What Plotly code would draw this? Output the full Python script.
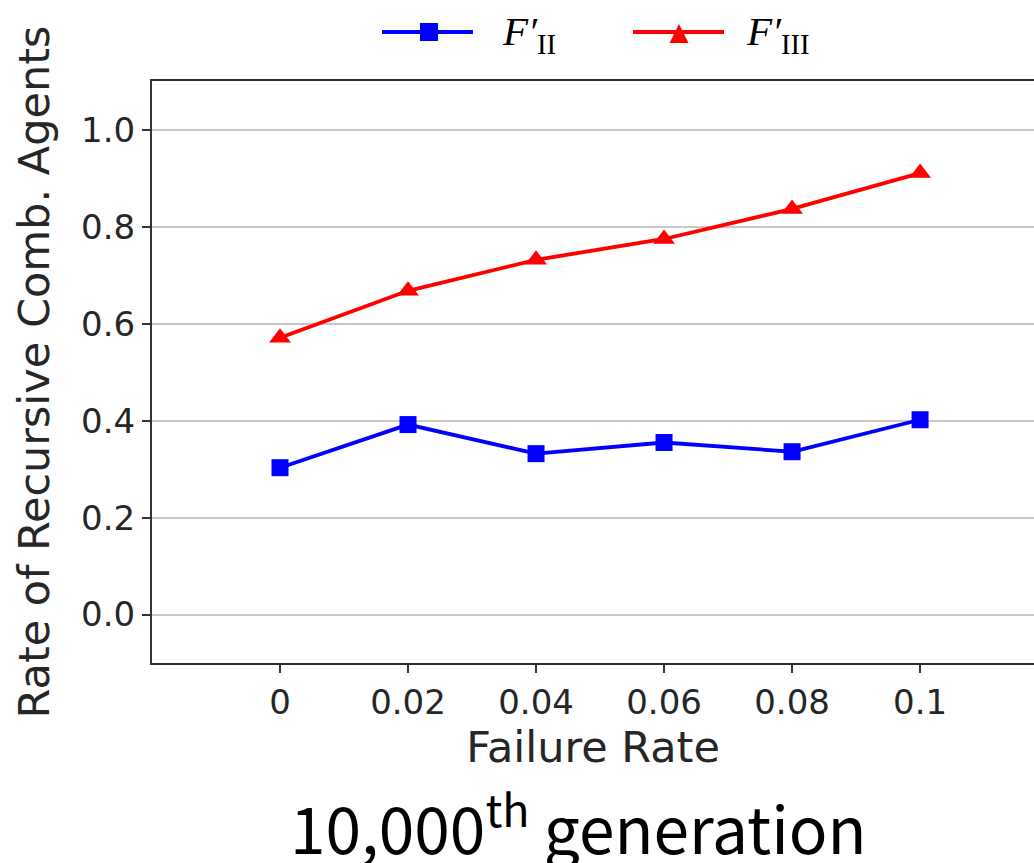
import plotly.graph_objects as go

failure_rate = [0, 0.02, 0.04, 0.06, 0.08, 0.1]
f2_values = [0.303, 0.392, 0.332, 0.355, 0.336, 0.402]
f3_values = [0.571, 0.668, 0.732, 0.775, 0.837, 0.911]
x_tick_labels = ["0", "0.02", "0.04", "0.06", "0.08", "0.1"]
y_tick_vals = [0.0, 0.2, 0.4, 0.6, 0.8, 1.0]
y_tick_labels = ["0.0", "0.2", "0.4", "0.6", "0.8", "1.0"]
series_names = ["<i>F′</i><sub>II</sub>", "<i>F′</i><sub>III</sub>"]
series_colors = ["#0000ff", "#ff0000"]
series_symbols = ["square", "triangle-up"]

serif = "Liberation Serif, DejaVu Serif, serif"
sans = "DejaVu Sans, sans-serif"

W, H = 1034, 863
L, R, T, B = 152, 0, 81, 200
PW, PH = W - L - R, H - T - B


def px2x(px):
    return (px - L) / PW


def py2y(py):
    return (H - B - py) / PH


fig = go.Figure()
for vals, name, col, sym in zip([f2_values, f3_values], series_names, series_colors, series_symbols):
    fig.add_trace(go.Scatter(
        x=failure_rate, y=vals, mode="lines+markers", name=name,
        line=dict(color=col, width=3.8),
        marker=dict(symbol=sym, size=17 if sym == "square" else 19, color=col),
        showlegend=False,
    ))

# manual legend (long line samples like the reference)
shapes = []
annotations = []
legend_items = [
    dict(x0=382, x1=473, mx=429, tx=500),
    dict(x0=633, x1=724, mx=679, tx=744),
]
ly = 32
for item, name, col, sym in zip(legend_items, series_names, series_colors, series_symbols):
    shapes.append(dict(type="line", xref="paper", yref="paper",
                       x0=px2x(item["x0"]), x1=px2x(item["x1"]), y0=py2y(ly), y1=py2y(ly),
                       line=dict(color=col, width=3.8)))
    mx = item["mx"]
    if sym == "square":
        shapes.append(dict(type="rect", xref="paper", yref="paper",
                           x0=px2x(mx - 9), x1=px2x(mx + 9), y0=py2y(ly + 9), y1=py2y(ly - 9),
                           fillcolor=col, line=dict(width=0)))
    else:
        path = "M {a},{b} L {c},{d} L {e},{f} Z".format(
            a=px2x(mx - 9.5), b=py2y(ly + 11), c=px2x(mx + 9.5), d=py2y(ly + 11),
            e=px2x(mx), f=py2y(ly - 8))
        shapes.append(dict(type="path", xref="paper", yref="paper", path=path,
                           fillcolor=col, line=dict(width=0)))
    annotations.append(dict(text=name, xref="paper", yref="paper",
                            x=px2x(item["tx"]), y=py2y(ly + 2), xanchor="left", yanchor="middle",
                            showarrow=False, font=dict(family=serif, size=41, color="#000000")))

annotations.append(dict(
    text="10,000<sup>th</sup> generation",
    xref="paper", yref="paper", x=px2x(578), y=py2y(823),
    xanchor="center", yanchor="middle", showarrow=False,
    font=dict(family="Noto Sans CJK JP", size=64, color="#000000"),
))

fig.update_layout(
    width=W, height=H,
    margin=dict(l=L, r=R, t=T, b=B),
    paper_bgcolor="white", plot_bgcolor="white",
    font=dict(family=sans, color="#262626"),
    showlegend=False,
    xaxis=dict(
        range=[-0.02, 0.1178],
        tickvals=failure_rate, ticktext=x_tick_labels,
        showgrid=False, zeroline=False,
        showline=True, linecolor="#333333", linewidth=2, mirror=True,
        ticks="outside", ticklen=8, tickwidth=2, tickcolor="#333333",
        tickfont=dict(size=34, family=sans, color="#262626"),
        title=dict(text="Failure Rate", font=dict(size=43, family=sans, color="#262626"), standoff=4),
    ),
    yaxis=dict(
        range=[-0.1, 1.101],
        tickvals=y_tick_vals, ticktext=y_tick_labels,
        showgrid=True, gridcolor="#c8c8c8", gridwidth=2,
        zeroline=False,
        showline=True, linecolor="#333333", linewidth=2, mirror=False,
        ticks="outside", ticklen=8, tickwidth=2, tickcolor="#333333",
        tickfont=dict(size=34, family=sans, color="#262626"),
        title=dict(text="Rate of Recursive Comb. Agents", font=dict(size=43, family=sans, color="#262626"), standoff=18),
    ),
    shapes=shapes,
    annotations=annotations,
)

fig.write_html("out.html", config={"displayModeBar": False},
               post_script="document.body.style.margin='0px';")
